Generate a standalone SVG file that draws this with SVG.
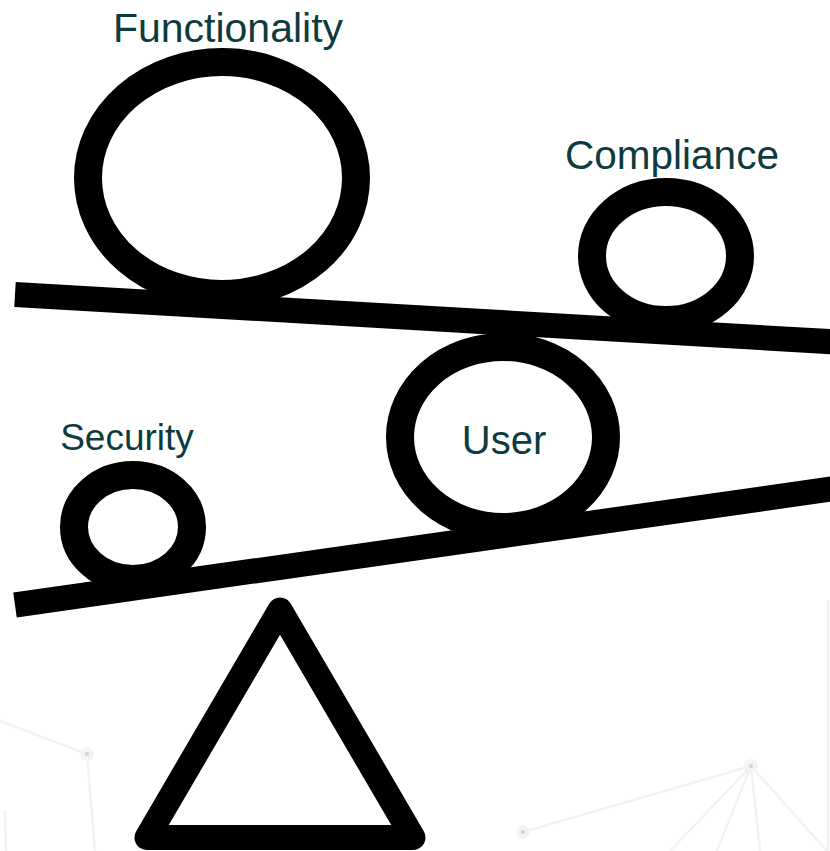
<svg xmlns="http://www.w3.org/2000/svg" width="830" height="851" viewBox="0 0 830 851">
<style>
.ring{fill:none;stroke:#000;stroke-width:28}
.beam{stroke:#000;stroke-width:25;stroke-linecap:butt}
.lbl{font-family:"Liberation Sans",Arial,sans-serif;fill:#0d3b3e;text-anchor:middle}
.net{stroke:#f2f2f2;stroke-width:2.5;fill:none}
.dot{fill:#d2d2d2;stroke:#f3f3f3;stroke-width:5}
</style>
<rect width="830" height="851" fill="#fff"/>
<g id="background">
<path class="net" d="M0 721 L87 754 L95 851"/>
<path class="net" d="M5 810 L6 851"/>
<path class="net" d="M523 832 L751 766 M751 766 L670 851 M751 766 L717 851 M751 766 L760 851 M751 766 L827 851"/>
<path class="net" d="M828 600 L828 851"/>
<circle class="dot" cx="87" cy="754" r="4.5"/>
<circle class="dot" cx="523" cy="832" r="4.5"/>
<circle class="dot" cx="751" cy="766" r="4.5"/>
</g>
<g id="connectors">
<line class="beam" x1="15" y1="294.5" x2="845" y2="342.5"/>
<line class="beam" x1="15" y1="605" x2="845" y2="487"/>
</g>
<g id="fulcrum">
<polygon points="280,610 147,837.5 413,837.5" fill="none" stroke="#000" stroke-width="25" stroke-linejoin="round"/>
</g>
<g id="functionality">
<ellipse class="ring" cx="222" cy="178" rx="134" ry="116"/>
<text class="lbl" x="228" y="42" font-size="41">Functionality</text>
</g>
<g id="compliance">
<ellipse class="ring" cx="666" cy="256" rx="74" ry="64"/>
<text class="lbl" x="672" y="169" font-size="40.5">Compliance</text>
</g>
<g id="user">
<ellipse class="ring" cx="503" cy="437" rx="103" ry="90"/>
<text class="lbl" x="504" y="454" font-size="40">User</text>
</g>
<g id="security">
<ellipse class="ring" cx="133" cy="527" rx="59" ry="52"/>
<text class="lbl" x="127" y="450" font-size="37">Security</text>
</g>
</svg>
